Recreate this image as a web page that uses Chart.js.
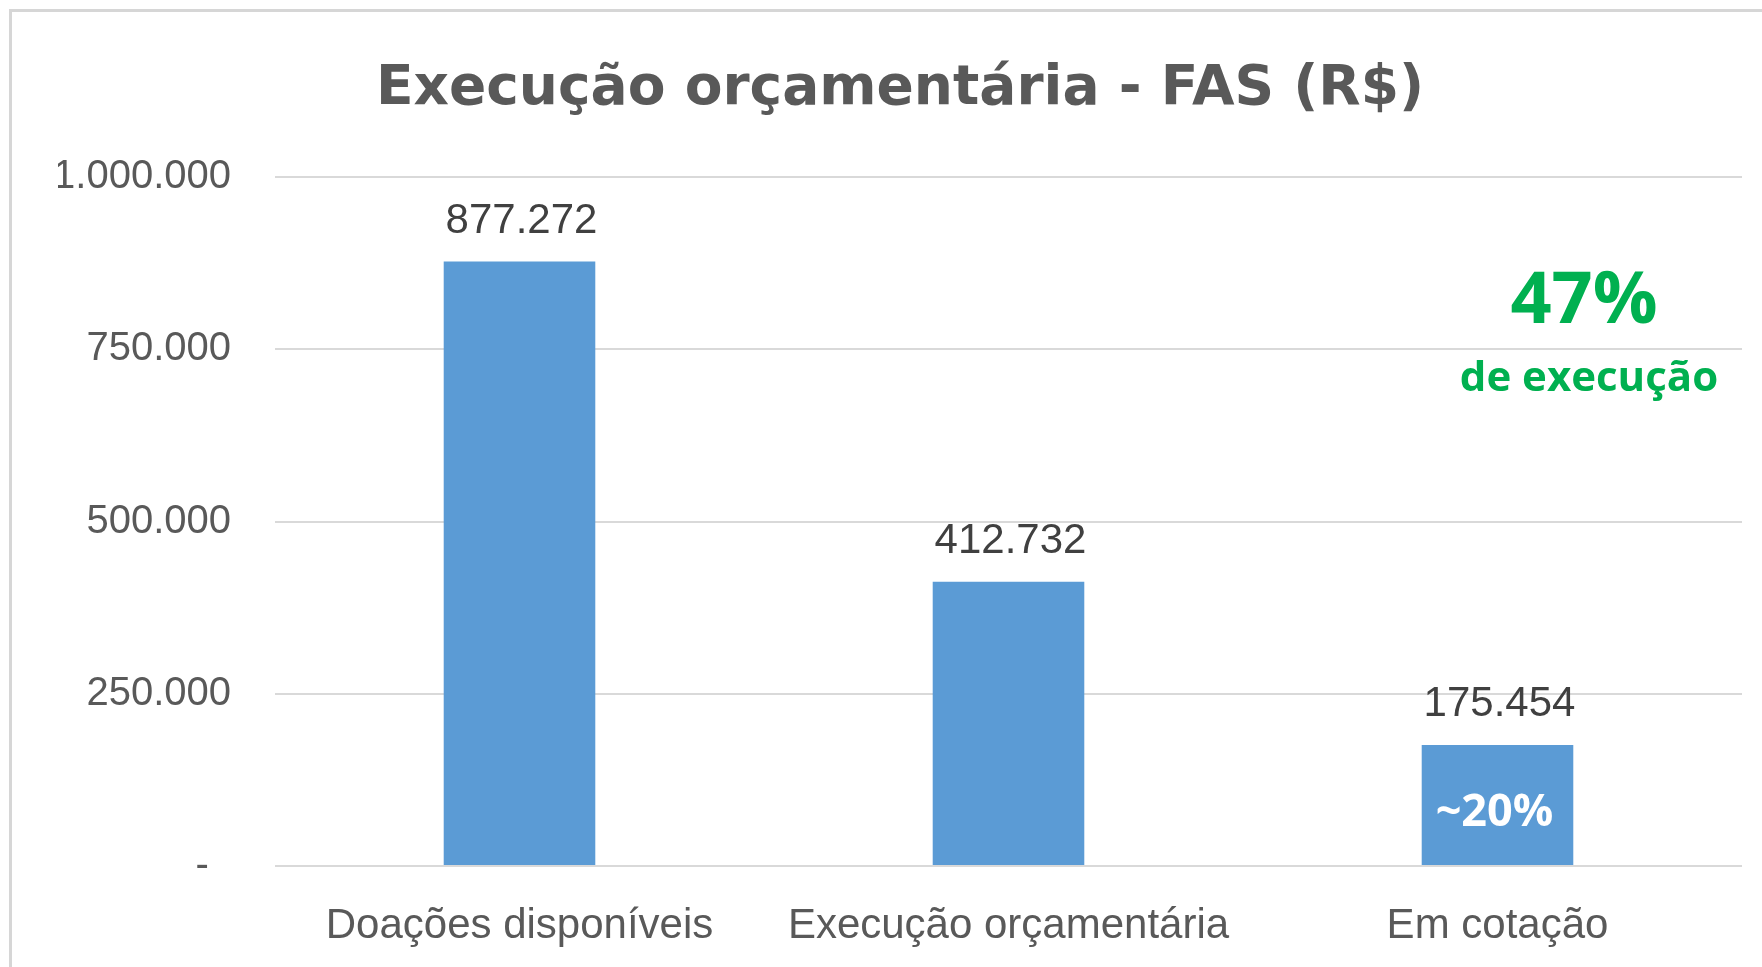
<!DOCTYPE html>
<html lang="pt-br">
<head>
    <meta charset="UTF-8">
    <title>Execução orçamentária - FAS (R$)</title>
    <script src="https://cdn.jsdelivr.net/npm/chart.js"></script>
    <style>
        html, body { margin: 0; padding: 0; background: #fff; }
    </style>
</head>
<body>
    <canvas id="chart" width="1762" height="967"></canvas>

    <script>
        // dados
        const titulo = 'Execução orçamentária - FAS (R$)';
        const categorias = ['Doações disponíveis', 'Execução orçamentária', 'Em cotação'];
        const valores = [877272, 412732, 175454];
        const rotulosValores = ['877.272', '412.732', '175.454'];
        const rotulosEixoY = ['-  ', '250.000', '500.000', '750.000', '1.000.000'];
        const destaque = '47%';
        const destaqueTexto = 'de execução';
        const notaBarra = '~20%'; // vai dentro da barra "Em cotação"

        const extras = {
            id: 'extras',
            beforeDraw(chart) {
                // moldura cinza (só esquerda e topo aparecem)
                const ctx = chart.ctx;
                ctx.save();
                ctx.strokeStyle = '#d6d6d6';
                ctx.lineWidth = 3;
                ctx.beginPath();
                ctx.moveTo(10.5, chart.height);
                ctx.lineTo(10.5, 10.5);
                ctx.lineTo(chart.width, 10.5);
                ctx.stroke();
                ctx.restore();
            },
            afterDatasetsDraw(chart) {
                const ctx = chart.ctx;
                const meta = chart.getDatasetMeta(0);
                ctx.save();
                ctx.textAlign = 'center';
                ctx.textBaseline = 'alphabetic';
                ctx.font = '42px "Liberation Sans"';
                ctx.fillStyle = '#404040';
                meta.data.forEach(function(bar, i) {
                    ctx.fillText(rotulosValores[i], bar.x + 2, bar.y - 29);
                });

                const ultima = meta.data[meta.data.length - 1];
                ctx.textBaseline = 'middle';
                ctx.font = 'bold 45px "Open Sans"';
                ctx.fillStyle = '#ffffff';
                ctx.fillText(notaBarra, ultima.x - 3, (ultima.y + ultima.base) / 2 + 8);

                ctx.fillStyle = '#00b050';
                ctx.font = 'bold 72px "Open Sans"';
                ctx.fillText(destaque, 1584, 302);
                ctx.font = 'bold 42px "Open Sans"';
                ctx.fillText(destaqueTexto, 1589, 379);
                ctx.restore();
            }
        };

        const ctx = document.getElementById('chart').getContext('2d');
        const chart = new Chart(ctx, {
            type: 'bar',
            data: {
                labels: categorias,
                datasets: [{
                    data: valores,
                    backgroundColor: '#5b9bd5',
                    barPercentage: 0.31,
                    categoryPercentage: 1
                }]
            },
            options: {
                responsive: false,
                animation: false,
                layout: { padding: { left: 58, right: 20, top: 57, bottom: 0 } },
                plugins: {
                    legend: { display: false },
                    tooltip: { enabled: false },
                    title: {
                        display: true,
                        text: titulo,
                        color: '#595959',
                        font: { family: 'DejaVu Sans', size: 55, weight: 'bold' },
                        padding: { top: 0, bottom: 54 }
                    }
                },
                scales: {
                    x: {
                        grid: { display: false },
                        border: { display: false },
                        ticks: {
                            color: '#595959',
                            font: { family: 'Liberation Sans', size: 42 },
                            padding: 27
                        },
                        afterFit: function(scale) { scale.height = 101; }
                    },
                    y: {
                        min: 0,
                        max: 1000000,
                        grid: { color: '#d9d9d9', lineWidth: 2, drawTicks: false },
                        border: { display: false },
                        ticks: {
                            stepSize: 250000,
                            color: '#595959',
                            font: { family: 'Liberation Sans', size: 40 },
                            padding: 44,
                            callback: function(value, index) { return rotulosEixoY[index]; }
                        },
                        afterFit: function(scale) { scale.width = 217; }
                    }
                }
            },
            plugins: [extras]
        });
    </script>
</body>
</html>
